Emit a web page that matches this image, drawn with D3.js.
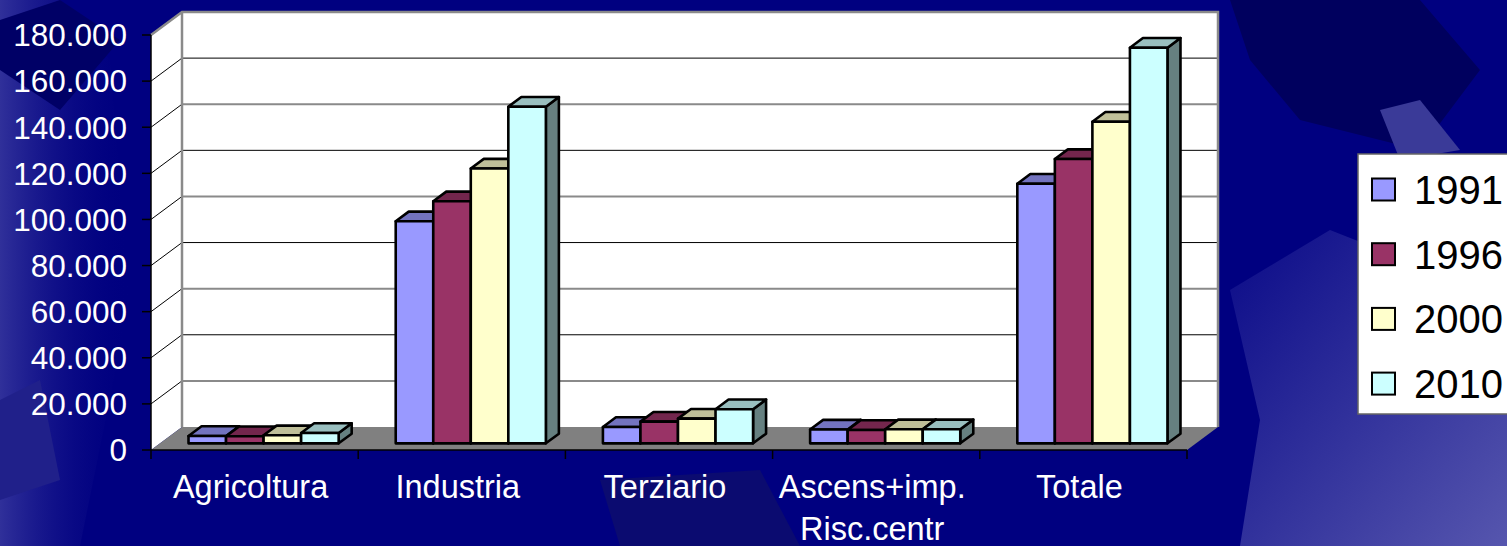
<!DOCTYPE html>
<html>
<head>
<meta charset="utf-8">
<script src="https://cdn.jsdelivr.net/npm/d3@7"></script>
<style>
  html, body { margin: 0; padding: 0; background: #000080; overflow: hidden; }
  svg { display: block; }
  text { font-family: "Liberation Sans", Arial, sans-serif; }
</style>
</head>
<body>
<div id="chart"></div>
<script>
const categories = ["Agricoltura", "Industria", "Terziario", "Ascens+imp.\nRisc.centr", "Totale"];
const series = ["1991", "1996", "2000", "2010"];
const colors = ["#9999ff", "#993366", "#ffffcc", "#ccffff"];

// one array per year, one value per category
const v1991 = [3200, 96300, 7100, 6000, 112600];
const v1996 = [3100, 105000, 9400, 5800, 123300];
const v2000 = [3500, 119200, 10700, 6100, 139500];
const v2010 = [4500, 146000, 14800, 6100, 171600];
const yTicks = [0, 20000, 40000, 60000, 80000, 100000, 120000, 140000, 160000, 180000];

const values = [v1991, v1996, v2000, v2010];

const width = 1507, height = 546;
const depthX = 31, depthY = -23;   // full floor depth
const barFront = 0.29, barDepth = 0.42; // where bars sit inside the depth

const svg = d3.select("#chart").append("svg")
  .attr("width", width)
  .attr("height", height);

// ---- background shapes
const defs = svg.append("defs");
const gl = defs.append("linearGradient").attr("id", "gl").attr("x1", 0).attr("x2", 1);
gl.append("stop").attr("offset", 0).attr("stop-color", "#30309a");
gl.append("stop").attr("offset", 1).attr("stop-color", "#000080").attr("stop-opacity", 0);
const gr = defs.append("linearGradient").attr("id", "gr").attr("x1", 0).attr("y1", 0).attr("x2", 1).attr("y2", 1);
gr.append("stop").attr("offset", 0).attr("stop-color", "#0a0a88");
gr.append("stop").attr("offset", 1).attr("stop-color", "#5656ae");

svg.append("rect").attr("width", width).attr("height", height).attr("fill", "#000080");
const bg = [
  { pts: [[0, 0], [60, 0], [110, 60], [130, 300], [80, 546], [0, 546]], fill: "url(#gl)" },
  { pts: [[0, 20], [60, 0], [120, 40], [60, 110], [0, 70]], fill: "#000066" },
  { pts: [[1230, 0], [1420, 0], [1480, 70], [1420, 150], [1300, 120], [1250, 60]], fill: "#00005e" },
  { pts: [[1380, 110], [1420, 100], [1460, 150], [1400, 160]], fill: "#3a3a98" },
  { pts: [[1230, 290], [1330, 230], [1507, 300], [1507, 546], [1240, 546], [1260, 420]], fill: "url(#gr)" },
  { pts: [[600, 480], [760, 470], [800, 546], [620, 546]], fill: "#0b0b70" },
  { pts: [[0, 400], [40, 380], [60, 480], [0, 500]], fill: "#20208a" }
];
svg.append("g").selectAll("polygon").data(bg).join("polygon")
  .attr("points", d => d.pts.join(" "))
  .attr("fill", d => d.fill);

// ---- scales
const x = d3.scaleBand().domain(categories).range([151, 1187]);
const xs = d3.scaleBand().domain(series).range([0, x.bandwidth()]).paddingOuter(0.76);
const y = d3.scaleLinear().domain([0, 180000]).range([450, 35]);
const fmt = d3.formatLocale({ decimal: ",", thousands: ".", grouping: [3], currency: ["", ""] }).format(",");

const x0 = x.range()[0], x1 = x.range()[1];
const yTopPx = y(180000), yBasePx = y(0);

// ---- walls and floor
const g = svg.append("g");
g.append("polygon")
  .attr("points", [[x0 + depthX, yTopPx + depthY], [x1 + depthX, yTopPx + depthY], [x1 + depthX, yBasePx + depthY], [x0 + depthX, yBasePx + depthY]].join(" "))
  .attr("fill", "#fff");
g.append("polygon")
  .attr("points", [[x0, yTopPx], [x0 + depthX, yTopPx + depthY], [x0 + depthX, yBasePx + depthY], [x0, yBasePx]].join(" "))
  .attr("fill", "#fff");

// gridlines: back wall + side wall
yTicks.filter(t => t > 0 && t < 180000).forEach((t, i) => {
  const yy = y(t);
  g.append("line")
    .attr("x1", x0 + depthX).attr("x2", x1 + depthX)
    .attr("y1", yy + depthY).attr("y2", yy + depthY)
    .attr("stroke", i % 2 ? "#000" : "#8a8a8a")
    .attr("stroke-width", i % 2 ? 1 : 2);
  g.append("line")
    .attr("x1", x0).attr("y1", yy)
    .attr("x2", x0 + depthX).attr("y2", yy + depthY)
    .attr("stroke", "#000").attr("stroke-width", 1);
});

g.append("polygon")
  .attr("points", [[x0, yBasePx], [x0 + depthX, yBasePx + depthY], [x1 + depthX, yBasePx + depthY], [x1, yBasePx]].join(" "))
  .attr("fill", "#808080");

// wall borders
g.append("path")
  .attr("d", `M${x0},${yTopPx} L${x0 + depthX},${yTopPx + depthY} L${x1 + depthX},${yTopPx + depthY} L${x1 + depthX},${yBasePx + depthY}`
    + ` M${x0 + depthX},${yTopPx + depthY} L${x0 + depthX},${yBasePx + depthY}`)
  .attr("fill", "none").attr("stroke", "#8a8a8a").attr("stroke-width", 2.5);

// ---- bars
const fx = depthX * barFront, fy = depthY * barFront;
const bdx = depthX * barDepth, bdy = depthY * barDepth;
const shade = (c, k) => { const r = d3.rgb(c); return d3.rgb(r.r * k, r.g * k, r.b * k).formatHex(); };

const barData = [];
categories.forEach((c, ci) => {
  series.forEach((s, si) => {
    barData.push({ cat: c, s, si, v: values[si][ci] });
  });
});

const bars = svg.append("g").selectAll("g.bar").data(barData).join("g").attr("class", "bar")
  .attr("stroke", "#000").attr("stroke-width", 2.6).attr("stroke-linejoin", "round");

bars.each(function (d) {
  const sel = d3.select(this);
  const bx = x(d.cat) + xs(d.s) + fx;
  const w = xs.bandwidth();
  const yt = y(d.v) + fy;
  const yb = y(0) + fy;
  sel.append("polygon")
    .attr("points", [[bx + w, yt], [bx + w + bdx, yt + bdy], [bx + w + bdx, yb + bdy], [bx + w, yb]].join(" "))
    .attr("fill", shade(colors[d.si], 0.5));
  sel.append("polygon")
    .attr("points", [[bx, yt], [bx + bdx, yt + bdy], [bx + w + bdx, yt + bdy], [bx + w, yt]].join(" "))
    .attr("fill", shade(colors[d.si], 0.75));
  sel.append("rect")
    .attr("x", bx).attr("y", yt).attr("width", w).attr("height", yb - yt)
    .attr("fill", colors[d.si]);
});

// ---- axes
const ax = svg.append("g");
ax.append("line").attr("x1", x0).attr("x2", x0).attr("y1", yTopPx).attr("y2", yBasePx)
  .attr("stroke", "#000").attr("stroke-width", 1.5);
ax.append("line").attr("x1", x0).attr("x2", x1).attr("y1", yBasePx).attr("y2", yBasePx)
  .attr("stroke", "#000").attr("stroke-width", 1.5);
ax.selectAll("line.yt").data(yTicks).join("line").attr("class", "yt")
  .attr("x1", x0 - 9).attr("x2", x0).attr("y1", d => y(d)).attr("y2", d => y(d))
  .attr("stroke", "#000").attr("stroke-width", 1.5);
ax.selectAll("line.xt").data(categories.concat([null])).join("line").attr("class", "xt")
  .attr("x1", (d, i) => x0 + i * x.step()).attr("x2", (d, i) => x0 + i * x.step())
  .attr("y1", yBasePx).attr("y2", yBasePx + 9)
  .attr("stroke", "#000").attr("stroke-width", 1.5);

ax.selectAll("text.yl").data(yTicks).join("text").attr("class", "yl")
  .attr("x", 127).attr("y", d => y(d)).attr("dy", "0.36em")
  .attr("text-anchor", "end").attr("fill", "#fff").attr("font-size", 31.5)
  .text(d => fmt(d));

ax.selectAll("text.xl").data(categories).join("text").attr("class", "xl")
  .attr("x", d => x(d) + x.bandwidth() / 2 - 4).attr("y", 498)
  .attr("text-anchor", "middle").attr("fill", "#fff").attr("font-size", 32.5)
  .each(function (d) {
    d.split("\n").forEach((line, i) => {
      d3.select(this).append("tspan")
        .attr("x", x(d) + x.bandwidth() / 2 - 4)
        .attr("dy", i ? 42 : 0)
        .text(line);
    });
  });

// ---- legend
const lg = svg.append("g").attr("transform", "translate(1358,154)");
lg.append("rect").attr("width", 170).attr("height", 260)
  .attr("fill", "#fff").attr("stroke", "#666").attr("stroke-width", 1.5);
const li = lg.selectAll("g.li").data(series).join("g").attr("class", "li")
  .attr("transform", (d, i) => `translate(0,${35.5 + i * 64.7})`);
li.append("rect").attr("x", 14).attr("y", -11).attr("width", 23).attr("height", 22)
  .attr("fill", (d, i) => colors[i]).attr("stroke", "#000").attr("stroke-width", 2);
li.append("text").attr("x", 56).attr("dy", "0.36em")
  .attr("font-size", 40).attr("fill", "#000").text(d => d);
</script>
</body>
</html>
